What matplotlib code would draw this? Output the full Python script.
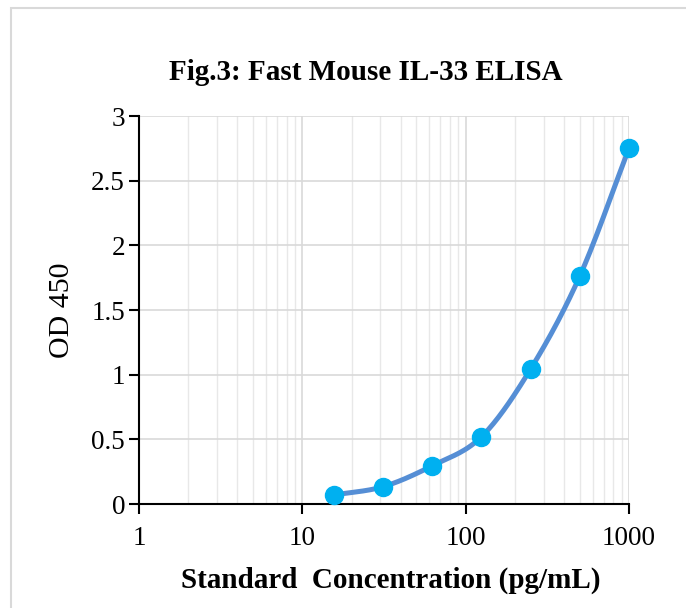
import numpy as np
import matplotlib
matplotlib.use("Agg")
import matplotlib.pyplot as plt
from matplotlib.patches import Rectangle
from matplotlib.ticker import LogLocator, FixedLocator, NullFormatter, FuncFormatter

conc = [15.625, 31.25, 62.5, 125, 250, 500, 1000]
od = [0.070, 0.134, 0.296, 0.520, 1.044, 1.763, 2.750]
title = "Fig.3: Fast Mouse IL-33 ELISA"
xlabel = "Standard  Concentration (pg/mL)"
ylabel = "OD 450"
yticks = [0, 0.5, 1, 1.5, 2, 2.5, 3]
xticks = [1, 10, 100, 1000]

plt.rcParams['font.family'] = ['Liberation Serif', 'DejaVu Serif']

fig = plt.figure(figsize=(6.86, 6.08), dpi=100)
fig.patches.append(Rectangle((10.5/686, -0.1), 1.2, (600.5/608) + 0.1, transform=fig.transFigure,
                             fill=False, edgecolor='#d9d9d9', linewidth=1.5))
ax = fig.add_axes([139/686, (608-504)/608, (629-139)/686, (504-116)/608])
ax.set_xscale('log')
ax.set_xlim(1, 1000)
ax.set_ylim(0, 3)

# Smoothed line (Catmull-Rom in log-x / y display space)
lx = np.log10(conc)
yy = np.array(od)
P = np.column_stack([lx / 3.0 * 490, yy / 3.0 * 388])
pts = np.vstack([P[0] - (P[1] - P[0]), P, P[-1] + (P[-1] - P[-2])])
curve = []
for i in range(1, len(pts) - 2):
    p0, p1, p2, p3 = pts[i-1], pts[i], pts[i+1], pts[i+2]
    t = np.linspace(0, 1, 30)[:, None]
    c1 = p1 + (p2 - p0) / 6
    c2 = p2 - (p3 - p1) / 6
    seg = (1-t)**3 * p1 + 3*(1-t)**2*t*c1 + 3*(1-t)*t**2*c2 + t**3*p2
    curve.append(seg)
curve = np.vstack(curve)
cx = 10 ** (curve[:, 0] / 490 * 3.0)
cy = curve[:, 1] / 388 * 3.0
ax.plot(cx, cy, color='#558ed5', lw=3.6, zorder=3, solid_capstyle='round')
ax.plot(conc, od, 'o', color='#00b0f0', ms=13, zorder=4, clip_on=False)

ax.xaxis.set_major_locator(FixedLocator(xticks))
ax.xaxis.set_minor_locator(LogLocator(base=10, subs=np.arange(2, 10)))
ax.xaxis.set_minor_formatter(NullFormatter())
ax.xaxis.set_major_formatter(FuncFormatter(lambda v, p: f"{int(v)}"))
ax.yaxis.set_major_locator(FixedLocator(yticks))
ax.yaxis.set_major_formatter(FuncFormatter(lambda v, p: f"{v:g}"))

ax.grid(True, which='major', color='#d9d9d9', lw=1.2)
ax.grid(True, which='minor', axis='x', color='#e8e8e8', lw=1.0)
ax.set_axisbelow(True)

for s in ['top', 'right']:
    ax.spines[s].set_visible(False)
for s in ['left', 'bottom']:
    ax.spines[s].set_color('black')
    ax.spines[s].set_linewidth(1.5)
ax.tick_params(axis='both', which='major', direction='out', length=7, width=1.5,
               labelsize=19.5, colors='black', pad=3)
ax.tick_params(axis='x', which='minor', length=0)
ax.tick_params(axis='x', pad=9)

fig.text(366/686, 1 - 73/608, title, fontsize=21, fontweight='bold', ha='center', va='center')
fig.text(391/686, 1 - 580/608, xlabel, fontsize=21, fontweight='bold', ha='center', va='center')
ax.set_ylabel(ylabel, fontsize=21.5, labelpad=12)

fig.savefig("out.png", dpi=100)
